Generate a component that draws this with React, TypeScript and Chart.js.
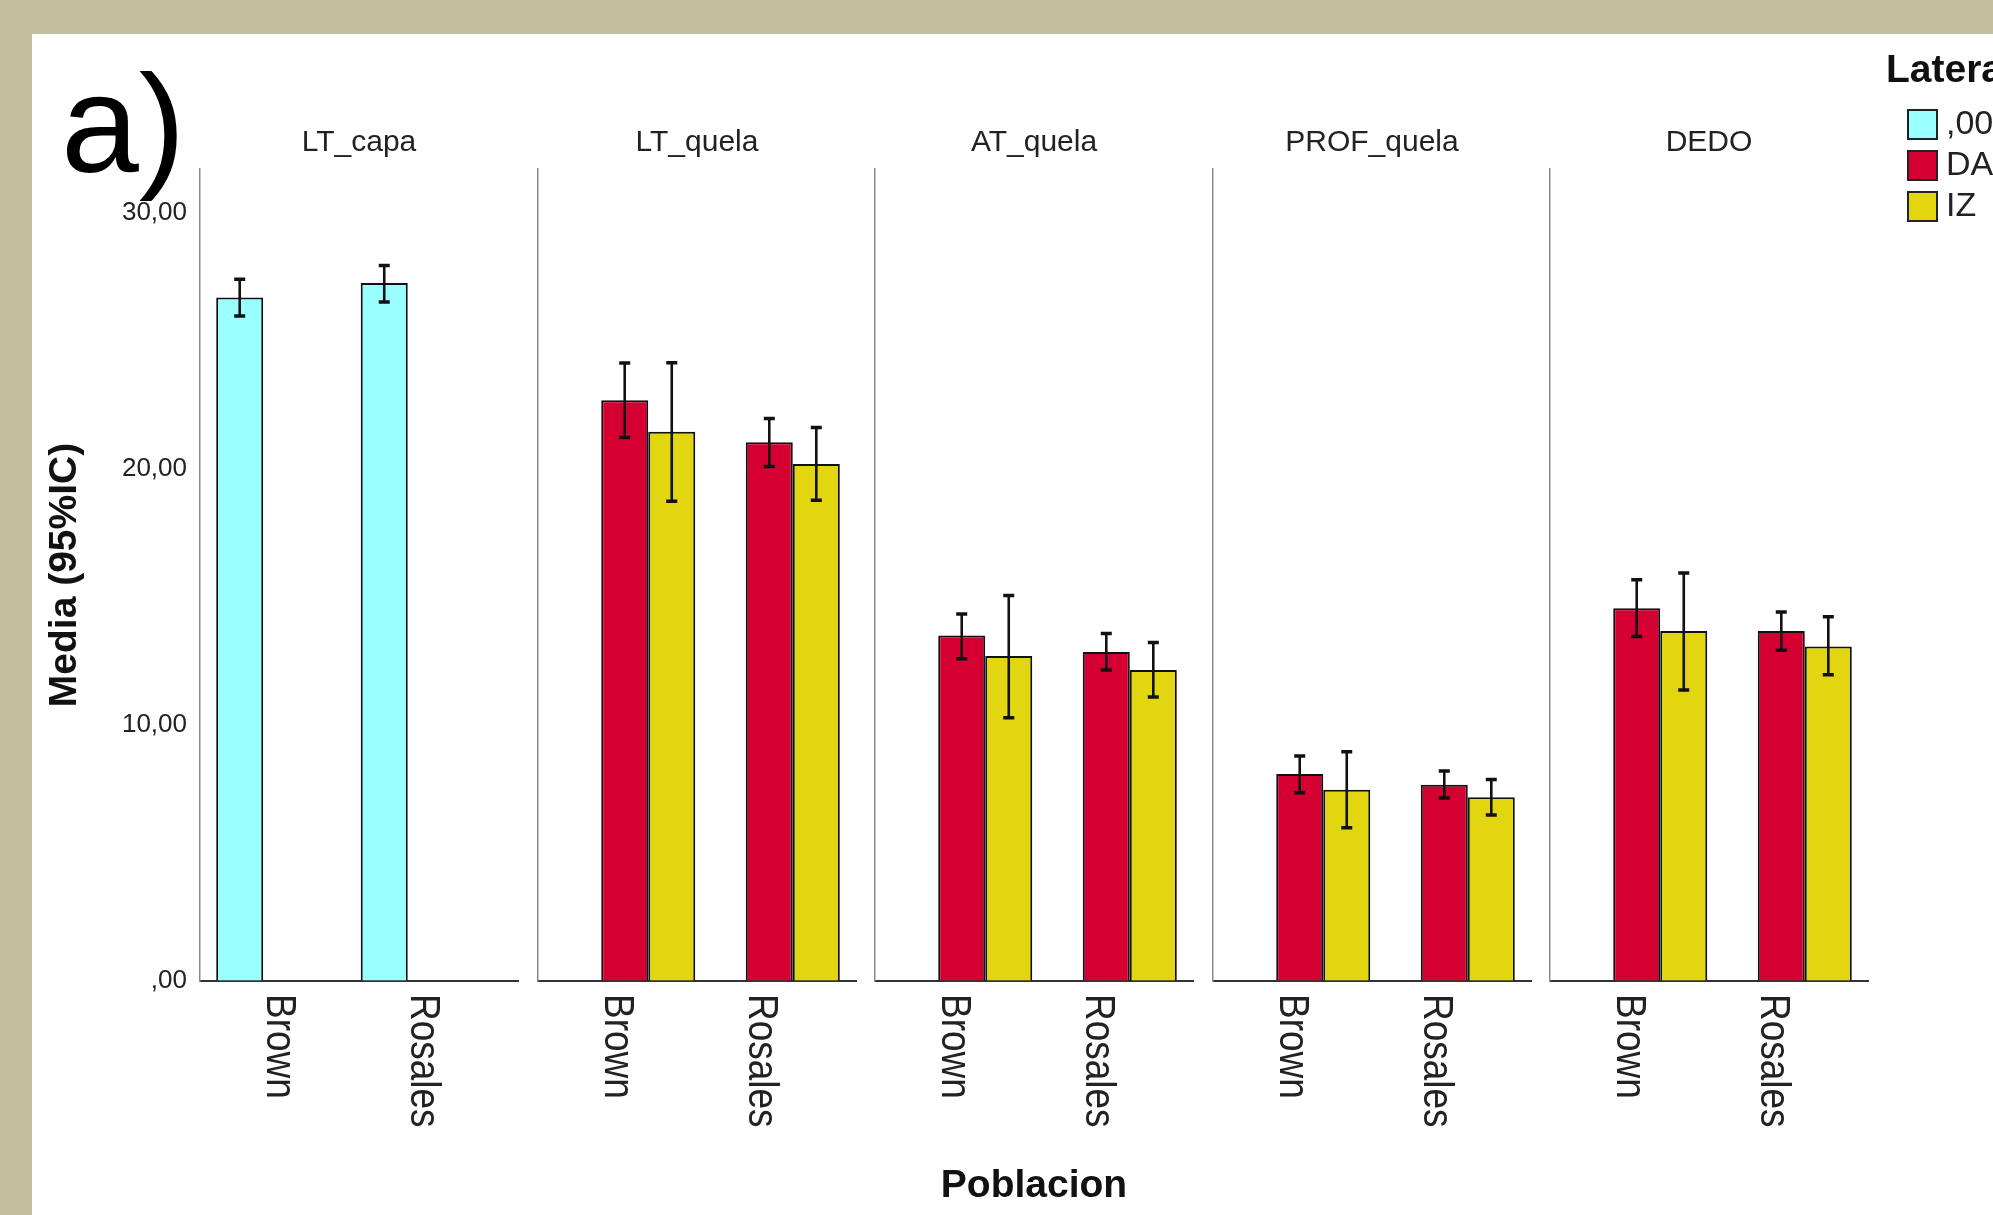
import React, { useEffect, useRef } from "react";
import { Chart, registerables } from "chart.js";

Chart.register(...registerables);
Chart.defaults.font.family = '"Liberation Sans", Arial, Helvetica, sans-serif';

// ---------------- data ----------------
const facets = ["LT_capa", "LT_quela", "AT_quela", "PROF_quela", "DEDO"];
const categories = ["Brown", "Rosales"];
const seriesLabels = [",00", "DA", "IZ"];
const seriesColors = ["#99FFFF", "#D50032", "#E1D60F"];
const legendTitle = "Lateralidad";
const yAxisTitle = "Media (95%IC)";
const xAxisTitle = "Poblacion";
const panelTag = "a)";
const yTickValues = [0, 10, 20, 30];
const yTickLabels = [",00", "10,00", "20,00", "30,00"];

// means per facet (null = level not present in that facet)
const meanCero = [[26.68, 27.25], null, null, null, null];
const meanDA = [null, [22.67, 21.03], [13.49, 12.84], [8.08, 7.66], [14.55, 13.66]];
const meanIZ = [null, [21.44, 20.18], [12.69, 12.14], [7.47, 7.17], [13.66, 13.06]];

// 95% CI lower / upper limits
const lowCero = [[25.96, 26.51], null, null, null, null];
const highCero = [[27.4, 27.93], null, null, null, null];
const lowDA = [null, [21.22, 20.09], [12.58, 12.14], [7.35, 7.14], [13.45, 12.91]];
const highDA = [null, [24.13, 21.96], [14.33, 13.57], [8.78, 8.2], [15.66, 14.41]];
const lowIZ = [null, [18.73, 18.77], [10.28, 11.09], [5.98, 6.48], [11.36, 11.96]];
const highIZ = [null, [24.14, 21.61], [15.05, 13.21], [8.95, 7.87], [15.93, 14.22]];

// ---------------- layout (style only) ----------------
const PANEL_LEFTS = [200, 538, 875, 1213, 1550];
const PANEL_W = 318;
const CANVAS_TOP = 34;
const CANVAS_H = 1215 - CANVAS_TOP;
const X_AXIS_H = 234;
const FONT = '"Liberation Sans", Arial, Helvetica, sans-serif';

const errorBarPlugin = {
  id: "errorBars",
  afterDatasetsDraw(chart: any) {
    const ctx = chart.ctx;
    const ys = chart.scales.y;
    chart.data.datasets.forEach((ds: any, di: number) => {
      if (!ds.errLow || !ds.errHigh) return;
      const meta = chart.getDatasetMeta(di);
      meta.data.forEach((bar: any, i: number) => {
        const lo = ds.errLow[i];
        const hi = ds.errHigh[i];
        if (lo == null || hi == null) return;
        const x = bar.x;
        const yl = ys.getPixelForValue(lo);
        const yh = ys.getPixelForValue(hi);
        ctx.save();
        ctx.strokeStyle = "#111";
        ctx.lineWidth = 2.6;
        ctx.beginPath();
        ctx.moveTo(x, yl);
        ctx.lineTo(x, yh);
        ctx.stroke();
        ctx.lineWidth = 3.5;
        ctx.beginPath();
        ctx.moveTo(x - 5.5, yl);
        ctx.lineTo(x + 5.5, yl);
        ctx.moveTo(x - 5.5, yh);
        ctx.lineTo(x + 5.5, yh);
        ctx.stroke();
        ctx.restore();
      });
    });
  },
};

const rotatedLabelsPlugin = {
  id: "rotatedLabels",
  afterDraw(chart: any) {
    const ctx = chart.ctx;
    const xs = chart.scales.x;
    ctx.save();
    ctx.font = `43px ${FONT}`;
    ctx.fillStyle = "#222";
    ctx.textAlign = "left";
    ctx.textBaseline = "alphabetic";
    xs.ticks.forEach((t: any) => {
      const lab = categories[t.value];
      if (lab == null) return;
      const px = xs.getPixelForValue(t.value);
      ctx.save();
      ctx.translate(px - 20, chart.chartArea.bottom + 13);
      ctx.rotate(Math.PI / 2);
      ctx.scale(0.86, 1);
      ctx.fillText(lab, 0, 0);
      ctx.restore();
    });
    ctx.restore();
  },
};

const facetLegendPlugin = {
  id: "facetLegend",
  afterDraw(chart: any, _args: any, opts: any) {
    if (!opts || !opts.show) return;
    const ctx = chart.ctx;
    const r = chart.chartArea.right;
    ctx.save();
    ctx.fillStyle = "#111";
    ctx.font = `bold 39px ${FONT}`;
    ctx.textAlign = "left";
    ctx.textBaseline = "alphabetic";
    ctx.fillText(legendTitle, r + 18, 48);
    chart.data.datasets.forEach((ds: any, i: number) => {
      const top = 75 + i * 41;
      ctx.fillStyle = ds.backgroundColor;
      ctx.fillRect(r + 39, top, 31, 31);
      ctx.strokeStyle = "#222";
      ctx.lineWidth = 2;
      ctx.strokeRect(r + 40, top + 1, 29, 29);
      ctx.fillStyle = "#222";
      ctx.font = `34px ${FONT}`;
      ctx.textBaseline = "middle";
      ctx.fillText(ds.label, r + 78, top + 16);
    });
    ctx.restore();
  },
};

function Panel({ index }: { index: number }) {
  const ref = useRef<HTMLCanvasElement | null>(null);
  const yw = index === 0 ? 168 : 4;
  const rightPad = index === 4 ? 1993 - (PANEL_LEFTS[4] + PANEL_W) : 4;
  const canvasW = yw + PANEL_W + rightPad;

  useEffect(() => {
    if (!ref.current) return;
    const means = [meanCero[index], meanDA[index], meanIZ[index]];
    const lows = [lowCero[index], lowDA[index], lowIZ[index]];
    const highs = [highCero[index], highDA[index], highIZ[index]];
    const datasets = seriesLabels.map((lab, s) => ({
      label: lab,
      data: categories.map((_, c) => (means[s] ? (means[s] as number[])[c] : null)),
      backgroundColor: seriesColors[s],
      borderColor: "#111",
      borderWidth: 2,
      borderSkipped: "start",
      errLow: lows[s],
      errHigh: highs[s],
    }));

    const chart = new Chart(ref.current, {
      type: "bar",
      data: { labels: categories, datasets: datasets as any },
      plugins: [errorBarPlugin, rotatedLabelsPlugin, facetLegendPlugin],
      options: {
        animation: false,
        responsive: false,
        maintainAspectRatio: false,
        devicePixelRatio: 1,
        layout: { padding: { left: 0, right: rightPad, top: 0, bottom: 0 } },
        datasets: { bar: { categoryPercentage: 0.976, barPercentage: 1 } },
        plugins: {
          legend: { display: false },
          tooltip: { enabled: false },
          title: {
            display: true,
            text: facets[index],
            fullSize: false,
            color: "#222",
            font: { size: 30, weight: "normal" },
            padding: { top: 90.5, bottom: 8.5 },
          },
          facetLegend: { show: index === 4 },
        } as any,
        scales: {
          x: {
            type: "category",
            offset: true,
            afterBuildTicks: (s: any) => {
              // SPSS-style outer margins: categories sit 0.6 of a step from the panel edges
              s._startValue = -0.6;
              s._valueRange = categories.length + 0.2;
            },
            afterFit: (s: any) => {
              s.height = X_AXIS_H;
            },
            ticks: { display: false },
            grid: { display: true, drawOnChartArea: false, drawTicks: false },
            border: { display: true, color: "#333", width: 2 },
            title: {
              display: index === 2,
              text: xAxisTitle,
              color: "#111",
              font: { size: 39, weight: "bold" },
              padding: { top: 0, bottom: 5.6 },
            },
          },
          y: {
            type: "linear",
            min: 0,
            max: 31.7,
            afterBuildTicks: (s: any) => {
              s.ticks = yTickValues.map((v) => ({ value: v }));
            },
            afterFit: (s: any) => {
              s.width = yw;
            },
            ticks: {
              display: index === 0,
              padding: 13,
              color: "#222",
              font: { size: 26 },
              callback: (v: any) => yTickLabels[yTickValues.indexOf(Number(v))],
            },
            grid: { display: true, drawOnChartArea: false, drawTicks: false },
            border: { display: true, color: "#8a8a8a", width: 1.5 },
            title: {
              display: index === 0,
              text: yAxisTitle,
              color: "#111",
              font: { size: 39, weight: "bold" },
              padding: { top: 9.6, bottom: 0 },
            },
          },
        } as any,
      },
    });
    return () => chart.destroy();
  }, [index]);

  return (
    <canvas
      ref={ref}
      width={canvasW}
      height={CANVAS_H}
      style={{
        position: "absolute",
        left: PANEL_LEFTS[index] - yw,
        top: CANVAS_TOP,
        width: canvasW,
        height: CANVAS_H,
      }}
    />
  );
}

export default function App() {
  return (
    <div
      style={{
        position: "fixed",
        left: 0,
        top: 0,
        width: 1993,
        height: 1215,
        overflow: "hidden",
        background: "#C4BEA0",
      }}
    >
      <div
        style={{
          position: "absolute",
          left: 32,
          top: 34,
          right: 0,
          bottom: 0,
          background: "#FFFFFF",
        }}
      />
      {facets.map((_, i) => (
        <Panel key={i} index={i} />
      ))}
      <div
        style={{
          position: "absolute",
          left: 61,
          top: 54,
          fontFamily: FONT,
          fontSize: 140,
          lineHeight: "140px",
          color: "#000",
          whiteSpace: "nowrap",
        }}
      >
        {panelTag}
      </div>
    </div>
  );
}
